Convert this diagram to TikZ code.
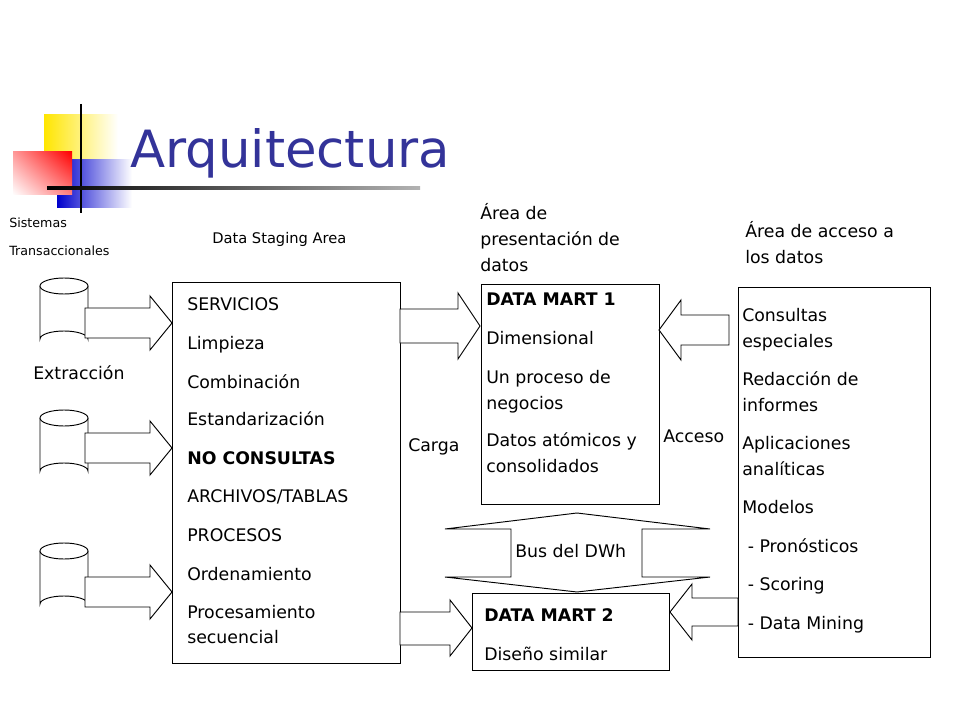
\documentclass[tikz,border=0pt]{standalone}
\usepackage{fontspec}
\setmainfont{DejaVu Sans}
\usetikzlibrary{positioning,shadings}

\definecolor{titleblue}{RGB}{51,51,153}
\tikzset{
  txt/.style={anchor=west,inner sep=0pt,text height=9.5pt,text depth=3pt,font=\fontsize{13}{15}\selectfont},
  small/.style={anchor=west,inner sep=0pt,text height=7pt,text depth=2pt,font=\fontsize{9.5}{11}\selectfont},
  box/.style={draw,line width=0.7pt},
  barrow/.style={draw,fill=white,line width=0.7pt},
}

\begin{document}
\begin{tikzpicture}[x=0.75pt,y=0.75pt,yscale=-1,xscale=1]
\useasboundingbox (0,0) rectangle (960,720);

% logo
\shade[left color=yellow!80!orange,right color=white] (44,115) rectangle (118,170);
\shade[left color=blue!80!black,right color=white] (57,160) rectangle (132,208);
\shade[upper right=red,lower left=white,upper left=red!40,lower right=red!50] (13,152) rectangle (72,195);
\draw[line width=1.5pt] (81,104) -- (81,213);
\shade[left color=black,right color=gray!60] (47,186.5) rectangle (420,189.5);
\node[anchor=base west,inner sep=0pt,text=titleblue,font=\fontsize{38.5}{44}\selectfont] (title) at (130,168) {Arquitectura};

% upper labels
\node[small] (sist) at (9,224) {Sistemas};
\node[small] (trans) at (9,252) {Transaccionales};
\node[small,font=\fontsize{11}{13}\selectfont] (dsa) at (212,240) {Data Staging Area};
\node[txt,align=left,anchor=north west,text height=,text depth=,font=\fontsize{13}{19.5}\selectfont] (apres) at (480,203) {Área de\\presentación de\\datos};
\node[txt,align=left,anchor=north west,text height=,text depth=,font=\fontsize{13}{19.5}\selectfont] (aacc) at (745,221) {Área de acceso a\\los datos};

% sources
\foreach \y/\n in {278/a,410/b,543/c}{
  \draw[box,fill=white] (40,\y+8) -- (40,\y+61) arc[start angle=180,end angle=360,x radius=24,y radius=8] -- (88,\y+8);
  \draw[box,fill=white] (64,\y+8) ellipse[x radius=24,y radius=8];
}
\foreach \y in {323,448,592}{
  \draw[barrow] (85,\y-15) -- (150,\y-15) -- (150,\y-27) -- (172,\y) -- (150,\y+27) -- (150,\y+15) -- (85,\y+15) -- cycle;
}
\node[txt] (extr) at (33,375) {Extracción};

% staging box
\draw[box] (172,282) rectangle (400,663);
\node[txt] (s1) at (187,306) {SERVICIOS};
\node[txt] (s2) at (187,345) {Limpieza};
\node[txt] (s3) at (187,384) {Combinación};
\node[txt] (s4) at (187,421) {Estandarización};
\node[txt,font=\fontsize{13}{15}\selectfont\bfseries] (s5) at (187,460) {NO CONSULTAS};
\node[txt] (s6) at (187,498) {ARCHIVOS/TABLAS};
\node[txt] (s7) at (187,537) {PROCESOS};
\node[txt] (s8) at (187,576) {Ordenamiento};
\node[txt] (s9) at (187,614) {Procesamiento};
\node[txt] (s10) at (187,639) {secuencial};

% carga arrows
\draw[barrow] (400,309) -- (458,309) -- (458,293) -- (480,326) -- (458,359) -- (458,343) -- (400,343) -- cycle;
\draw[barrow] (400,612) -- (450,612) -- (450,600) -- (472,628) -- (450,656) -- (450,645) -- (400,645) -- cycle;
\node[txt] (carga) at (408,447) {Carga};

% data mart 1
\draw[box] (481,284) rectangle (659,504);
\node[txt,font=\fontsize{13}{15}\selectfont\bfseries] (d1) at (486,301) {DATA MART 1};
\node[txt] (d2) at (486,340) {Dimensional};
\node[txt] (d3) at (486,379) {Un proceso de};
\node[txt] (d4) at (486,405) {negocios};
\node[txt] (d5) at (486,442) {Datos atómicos y};
\node[txt] (d6) at (486,468) {consolidados};

% bus
\draw[barrow] (577,513) -- (710,529) -- (642,529) -- (642,577) -- (710,577) -- (577,592) -- (445,577) -- (511,577) -- (511,529) -- (445,529) -- cycle;
\node[txt] (bus) at (515,553) {Bus del DWh};

% data mart 2
\draw[box] (472,593) rectangle (669,670);
\node[txt,font=\fontsize{13}{15}\selectfont\bfseries] (m1) at (484,617) {DATA MART 2};
\node[txt] (m2) at (484,656) {Diseño similar};

% acceso arrows
\draw[barrow] (729,315) -- (681,315) -- (681,300) -- (659,330) -- (681,360) -- (681,345) -- (729,345) -- cycle;
\draw[barrow] (738,598) -- (692,598) -- (692,584) -- (670,612) -- (692,640) -- (692,626) -- (738,626) -- cycle;
\node[txt] (acc) at (663,438) {Acceso};

% access box
\draw[box] (738,287) rectangle (930,657);
\node[txt] (r1) at (742,317) {Consultas};
\node[txt] (r2) at (742,343) {especiales};
\node[txt] (r3) at (742,381) {Redacción de};
\node[txt] (r4) at (742,407) {informes};
\node[txt] (r5) at (742,445) {Aplicaciones};
\node[txt] (r6) at (742,471) {analíticas};
\node[txt] (r7) at (742,509) {Modelos};
\node[txt] (r8) at (742,548) {\ - Pronósticos};
\node[txt] (r9) at (742,586) {\ - Scoring};
\node[txt] (r10) at (742,625) {\ - Data Mining};
\end{tikzpicture}
\end{document}
